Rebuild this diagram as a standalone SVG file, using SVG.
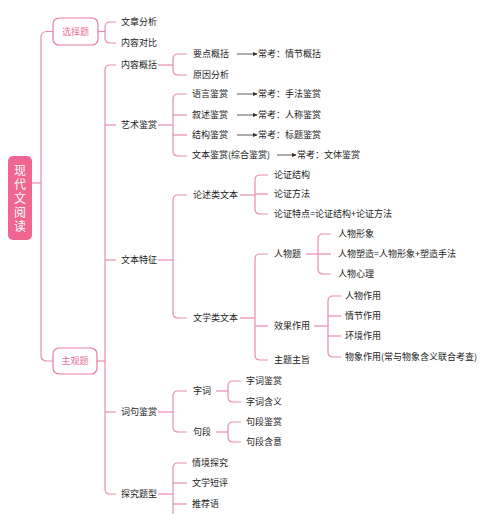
<svg xmlns="http://www.w3.org/2000/svg" width="500" height="514" viewBox="0 0 500 514">
<defs>
<style>
text{font-family:"Noto Sans CJK SC","Noto Sans",sans-serif;font-size:9px;fill:#222}
.conn path{fill:none;stroke:#e98cb0;stroke-width:1.2}
.arr line{stroke:#333;stroke-width:0.8}
.box{fill:#fff;stroke:#e87ba3;stroke-width:1.2}
.boxt{fill:#e8709a;text-anchor:middle}
.root{fill:#f06592}
.roott{fill:#fff;font-size:12px;text-anchor:middle;writing-mode:vertical-rl;letter-spacing:2px}
</style>
<marker id="ah" viewBox="0 0 6 6" refX="5" refY="3" markerWidth="5" markerHeight="5" orient="auto" markerUnits="userSpaceOnUse">
<path d="M0,0.5 L6,3 L0,5.5 Z" fill="#333"/>
</marker>
</defs>
<rect width="500" height="514" fill="#fff"/>
<g class="conn">
<path d="M32 183 H41"/>
<path d="M53 31.5 H47 Q41 31.5 41 37.5 V355 Q41 361 47 361 H53"/>
<path d="M98 31.5 H105"/>
<path d="M116 22 H110 Q105 22 105 27 V38 Q105 43 110 43 H116"/>
<path d="M97 361 H105"/>
<path d="M116 65 H110 Q105 65 105 70 V489 Q105 494 110 494 H116"/>
<path d="M105 125 H116"/><path d="M105 260 H116"/><path d="M105 412 H116"/>
<path d="M158 65 H173"/>
<path d="M187 54 H178 Q173 54 173 59 V70 Q173 75 178 75 H187"/>
<path d="M158 125 H173"/>
<path d="M187 94 H178 Q173 94 173 99 V151 Q173 156 178 156 H187"/>
<path d="M173 115 H187"/><path d="M173 135 H187"/>
<path d="M158 260 H173"/>
<path d="M187 195 H178 Q173 195 173 200 V313 Q173 318 178 318 H187"/>
<path d="M158 412 H173"/>
<path d="M187 391 H178 Q173 391 173 396 V427 Q173 432 178 432 H187"/>
<path d="M158 494 H173"/>
<path d="M187 463 H178 Q173 463 173 468 V520"/>
<path d="M173 483 H187"/><path d="M173 504 H187"/>
<path d="M240 195 H255"/>
<path d="M268 175 H260 Q255 175 255 180 V209 Q255 214 260 214 H268"/>
<path d="M255 194 H268"/>
<path d="M240 318 H255"/>
<path d="M268 254 H260 Q255 254 255 259 V355 Q255 360 260 360 H268"/>
<path d="M255 326 H268"/>
<path d="M306 254 H318"/>
<path d="M331 234 H323 Q318 234 318 239 V269 Q318 274 323 274 H331"/>
<path d="M318 254 H331"/>
<path d="M314 326 H328"/>
<path d="M341 296 H333 Q328 296 328 301 V352 Q328 357 333 357 H341"/>
<path d="M328 316 H341"/><path d="M328 336 H341"/>
<path d="M216 391 H228"/>
<path d="M241 381 H233 Q228 381 228 386 V397 Q228 402 233 402 H241"/>
<path d="M216 432 H228"/>
<path d="M241 422 H233 Q228 422 228 427 V437 Q228 442 233 442 H241"/>
</g>
<g class="arr">
<line x1="237" y1="54" x2="257" y2="54" marker-end="url(#ah)"/>
<line x1="237" y1="94" x2="257" y2="94" marker-end="url(#ah)"/>
<line x1="237" y1="115" x2="257" y2="115" marker-end="url(#ah)"/>
<line x1="237" y1="135" x2="257" y2="135" marker-end="url(#ah)"/>
<line x1="277" y1="155" x2="296" y2="155" marker-end="url(#ah)"/>
</g>
<g id="root">
<rect class="root" x="8" y="156" width="24" height="84" rx="5"/>
<text class="roott" x="20" y="199">现代文阅读</text>
</g>
<g id="xuanze"><rect class="box" x="53" y="18" width="45" height="27" rx="6"/><text class="boxt" x="75.5" y="34.5">选择题</text></g>
<g id="zhuguan"><rect class="box" x="53" y="348" width="44" height="26" rx="6"/><text class="boxt" x="75" y="364">主观题</text></g>
<g id="n-wzfx"><text x="121" y="25">文章分析</text></g>
<g id="n-nrdb"><text x="121" y="46">内容对比</text></g>
<g id="n-nrgk"><text x="121" y="68">内容概括</text></g>
<g id="n-ysjs"><text x="121" y="128">艺术鉴赏</text></g>
<g id="n-wbtz"><text x="121" y="263">文本特征</text></g>
<g id="n-jcjs"><text x="121" y="415">词句鉴赏</text></g>
<g id="n-tjtx"><text x="121" y="497">探究题型</text></g>
<g id="n-ydgk"><text x="193" y="57">要点概括</text></g>
<g id="n-yyfx"><text x="193" y="78">原因分析</text></g>
<g id="n-yyjs"><text x="192" y="97">语言鉴赏</text></g>
<g id="n-xsjs"><text x="192" y="118">叙述鉴赏</text></g>
<g id="n-jgjs"><text x="192" y="138">结构鉴赏</text></g>
<g id="n-wbjs"><text x="192" y="158">文本鉴赏(综合鉴赏)</text></g>
<g id="n-ck1"><text x="258" y="57">常考：情节概括</text></g>
<g id="n-ck2"><text x="258" y="97">常考：手法鉴赏</text></g>
<g id="n-ck3"><text x="258" y="118">常考：人称鉴赏</text></g>
<g id="n-ck4"><text x="258" y="138">常考：标题鉴赏</text></g>
<g id="n-ck5"><text x="297" y="158">常考：文体鉴赏</text></g>
<g id="n-lslwb"><text x="193" y="198">论述类文本</text></g>
<g id="n-lzjg"><text x="274" y="178">论证结构</text></g>
<g id="n-lzff"><text x="274" y="197">论证方法</text></g>
<g id="n-lztd"><text x="274" y="217">论证特点=论证结构+论证方法</text></g>
<g id="n-wxlwb"><text x="193" y="321">文学类文本</text></g>
<g id="n-rwt"><text x="274" y="257">人物题</text></g>
<g id="n-rwxx"><text x="338" y="237">人物形象</text></g>
<g id="n-rwsz"><text x="338" y="257">人物塑造=人物形象+塑造手法</text></g>
<g id="n-rwxl"><text x="338" y="277">人物心理</text></g>
<g id="n-xgzy"><text x="274" y="329">效果作用</text></g>
<g id="n-rwzy"><text x="345" y="299">人物作用</text></g>
<g id="n-qjzy"><text x="345" y="319">情节作用</text></g>
<g id="n-hjzy"><text x="345" y="339">环境作用</text></g>
<g id="n-wxzy"><text x="345" y="360">物象作用(常与物象含义联合考查)</text></g>
<g id="n-ztzz"><text x="274" y="363">主题主旨</text></g>
<g id="n-zc"><text x="193" y="394">字词</text></g>
<g id="n-zcjs"><text x="246" y="384">字词鉴赏</text></g>
<g id="n-zchy"><text x="246" y="405">字词含义</text></g>
<g id="n-jd"><text x="193" y="435">句段</text></g>
<g id="n-jdjs"><text x="246" y="425">句段鉴赏</text></g>
<g id="n-jdhy"><text x="246" y="445">句段含意</text></g>
<g id="n-qjtj"><text x="192" y="466">情境探究</text></g>
<g id="n-wxdp"><text x="192" y="486">文学短评</text></g>
<g id="n-tjy"><text x="192" y="507">推荐语</text></g>
</svg>
